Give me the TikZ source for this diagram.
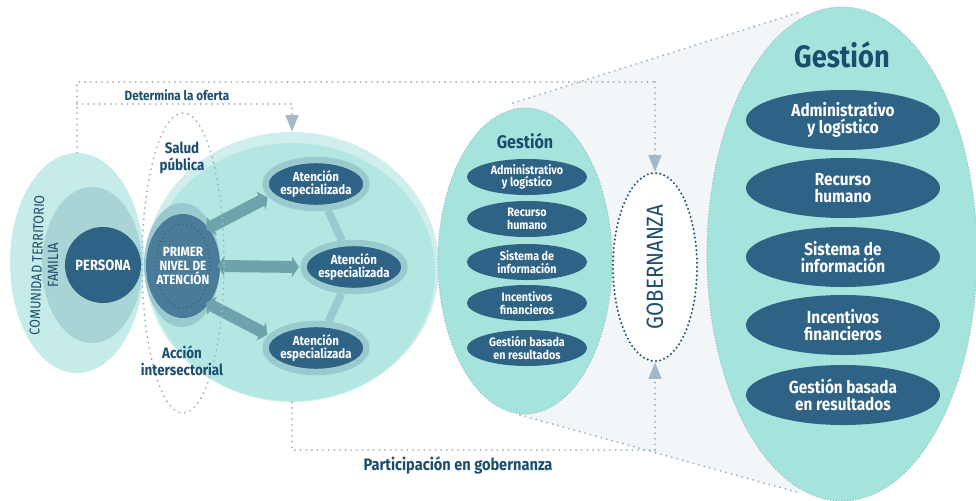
\documentclass[tikz,border=0pt]{standalone}
\usepackage{fontspec}
\setmainfont{Fira Sans}[FakeStretch=0.88]
\usetikzlibrary{shapes.geometric,arrows.meta}

\definecolor{ink}{HTML}{1B4D6E}
\definecolor{navy}{HTML}{2F6386}
\definecolor{comu}{HTML}{C6ECE9}
\definecolor{fam}{HTML}{A8D4D5}
\definecolor{redext}{HTML}{D0EFEC}
\definecolor{redint}{HTML}{B4E7E2}
\definecolor{halo}{HTML}{9ACACE}
\definecolor{pnivel}{HTML}{4A7B99}
\definecolor{gest}{HTML}{A5E3DD}
\definecolor{embudo}{HTML}{F2F6F9}
\definecolor{punto}{HTML}{9FB4C6}
\definecolor{punta}{HTML}{A4B8C7}
\definecolor{bloque}{HTML}{6EA3AC}

\newcommand{\fsz}[2]{\fontsize{#1}{#2}\selectfont}

\begin{document}
\begin{tikzpicture}[x=0.025cm,y=-0.025cm,
   blob/.style={ellipse,inner sep=0pt},
   puntos/.style={draw=punto,line width=1.5pt,line cap=round,dash pattern=on 0pt off 4pt},
   borde/.style={draw=punto,line width=0.9pt,line cap=round,dash pattern=on 0pt off 2pt},
   flecha/.style={puntos,-{Triangle[length=0.42cm,width=0.32cm,color=punta]}},
   bloqueflecha/.style={draw=bloque,line width=0.3cm,shorten >=1pt,shorten <=-2pt,
      {Triangle[length=0.17cm,width=0.5cm]}-{Triangle[length=0.17cm,width=0.5cm]}},
   enlace/.style={draw=halo,line width=0.2cm},
   atencion/.style={blob,fill=navy,draw=halo,line width=0.16cm,minimum width=2.45cm,
      minimum height=1.2cm,text=white,align=center,font=\bfseries\fsz{9.3}{9}},
   chico/.style={blob,fill=navy,minimum width=3cm,minimum height=0.9cm,text=white,
      align=center,font=\bfseries\fsz{8.7}{9}},
   grande/.style={blob,fill=navy,minimum width=4.85cm,minimum height=1.5cm,text=white,
      align=center,font=\bfseries\fsz{12.4}{12.6}},
   rotulo/.style={text=ink,align=center,font=\bfseries}]
\useasboundingbox (0,0) rectangle (976,501);

\coordinate (fu1) at (513,103);
\coordinate (fu2) at (800,12);
\coordinate (fu3) at (800,493);
\coordinate (fu4) at (520,415);
\fill[embudo] (fu1) -- (fu2) -- (fu3) -- (fu4) -- cycle;
\draw[puntos] (fu1) -- (fu2);
\draw[puntos] (fu4) -- (fu3);

\node[blob,fill=comu,minimum width=3.35cm,minimum height=5.5cm] (comunidad) at (77,263) {};
\node[blob,fill=fam,minimum width=2.5cm,minimum height=3.9cm] (familia) at (92,265) {};
\node[circle,fill=navy,minimum size=1.9cm,inner sep=0pt,text=white,font=\bfseries\fsz{10.5}{10}] (persona) at (103,265) {PERSONA};
\node[rotate=88,text=ink,font=\fsz{10.2}{10}] at (37,265) {COMUNIDAD TERRITORIO};
\node[rotate=90,text=ink,font=\fsz{10.5}{10}] at (53,265) {FAMILIA};

\node[blob,fill=redext,minimum width=7.35cm,minimum height=6.75cm] (red) at (292,267) {};
\node[blob,fill=redint,minimum width=7.15cm,minimum height=6.45cm] at (292,272) {};
\node[blob,fill=halo,minimum width=1.9cm,minimum height=3.1cm] (pnh) at (182,265) {};
\node[blob,fill=pnivel,minimum width=1.85cm,minimum height=2.6cm] (pna) at (183,266) {};
\draw[draw=navy,line width=1.2pt,line cap=round,dash pattern=on 0pt off 3pt] (pna.center) ellipse [x radius=27,y radius=42];
\node[text=white,align=center,font=\bfseries\fsz{9.5}{10}] at (pna) {PRIMER\\NIVEL DE\\ATENCIÓN};

\node[atencion] (at1) at (316,184) {Atención\\especializada};
\node[atencion] (at2) at (354,267) {Atención\\especializada};
\node[atencion] (at3) at (316,348) {Atención\\especializada};
\draw[enlace] (at1) -- (at2);
\draw[enlace] (at2) -- (at3);
\draw[bloqueflecha] (pna.56) -- (at1.195);
\draw[bloqueflecha] (pna.east) -- (at2.west);
\draw[bloqueflecha] (pna.-56) -- (at3.165);

\node[blob,puntos,minimum width=2.05cm,minimum height=7.5cm] (sp) at (183,263) {};
\node[rotulo,font=\bfseries\fsz{10.8}{12}] at (182,158) {Salud\\pública};
\node[rotulo,font=\bfseries\fsz{10.8}{12}] at (182,361) {Acción\\intersectorial};

\node[blob,fill=gest,borde,minimum width=4.35cm,minimum height=7.65cm] (gs) at (525,261) {};
\node[rotulo,font=\bfseries\fsz{13}{13}] at (525,141) {Gestión};
\node[chico] (g1) at (527,177) {Administrativo\\y logístico};
\node[chico] (g2) at (527,219) {Recurso\\humano};
\node[chico] (g3) at (527,262) {Sistema de\\información};
\node[chico] (g4) at (527,303) {Incentivos\\financieros};
\node[chico] (g5) at (527,348) {Gestión basada\\en resultados};

\node[blob,fill=white,draw=ink,line width=1.6pt,line cap=round,dash pattern=on 0pt off 3pt,
   minimum width=2.1cm,minimum height=4.7cm] (gob) at (655,267) {};
\node[rotate=90,text=ink,font=\fsz{16.5}{16}] at (gob) {GOBERNANZA};

\node[blob,fill=gest,borde,minimum width=6.75cm,minimum height=12.35cm] (gb) at (842,254) {};
\node[rotulo,font=\bfseries\fsz{22}{22}] at (842,55) {Gestión};
\node[grande] (G1) at (843,120) {Administrativo\\y logístico};
\node[grande] (G2) at (843,188) {Recurso\\humano};
\node[grande] (G3) at (843,257) {Sistema de\\información};
\node[grande] (G4) at (843,325) {Incentivos\\financieros};
\node[grande] (G5) at (843,395) {Gestión basada\\en resultados};

\coordinate (of1) at (77,104);
\coordinate (of2) at (655,82);
\coordinate (pg) at (655,450);
\draw[puntos] (comunidad.north) |- (of2);
\draw[flecha] (of2) -- (gob.north);
\draw[flecha] (of1) -| (red.north);
\draw[puntos] (red.south) |- (pg);
\draw[flecha] (pg) -- (gob.south);
\node[rotulo,font=\bfseries\fsz{9.5}{9}] at (177,95) {Determina la oferta};
\node[rotulo,font=\bfseries\fsz{11.8}{11}] at (458,465) {Participación en gobernanza};
\end{tikzpicture}
\end{document}
